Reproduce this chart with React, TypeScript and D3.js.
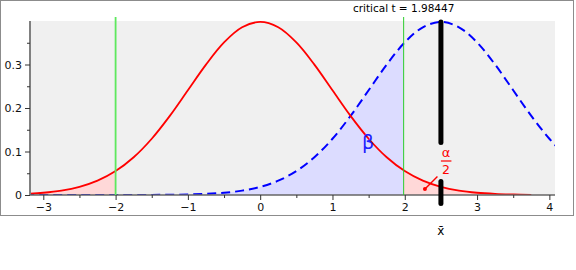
import { useRef, useEffect } from 'react';
import * as d3 from 'd3';

// offsets from the distribution centre and the t density (df = 98) read at them
const offsets = [
  -5.75, -5.5, -5.25, -5, -4.75, -4.5, -4.25, -4, -3.75, -3.5, -3.25, -3, -2.75, -2.5, -2.25, -2,
  -1.75, -1.5, -1.25, -1, -0.75, -0.5, -0.25, 0, 0.25, 0.5, 0.75, 1, 1.25, 1.5, 1.75, 2, 2.25,
  2.5, 2.75, 3, 3.25, 3.5, 3.75, 4, 4.25,
];
const tDensity = [
  0, 0, 0, 0.000003, 0.00001, 0.00003, 0.00008, 0.00021, 0.00051, 0.00115, 0.00249, 0.00513,
  0.01005, 0.01867, 0.03291, 0.05496, 0.08677, 0.12937, 0.18186, 0.24074, 0.29975, 0.35077,
  0.38556, 0.39792, 0.38556, 0.35077, 0.29975, 0.24074, 0.18186, 0.12937, 0.08677, 0.05496,
  0.03291, 0.01867, 0.01005, 0.00513, 0.00249, 0.00115, 0.00051, 0.00021, 0.00008,
];

const critT = 1.98447;
const lowerMark = -2;
const altMean = 2.5;
const redAtCrit = 0.0566; // null density at the critical value
const blueAtCrit = 0.348; // alternative density at the critical value
const redMaxX = 3.9;

const xTicks = [-3, -2, -1, 0, 1, 2, 3, 4];
const xMinorTicks = [-2.5, -1.5, -0.5, 0.5, 1.5, 2.5, 3.5];
const yTicks = [0, 0.1, 0.2, 0.3];
const yMinorTicks = [0.05, 0.15, 0.25, 0.35];

const W = 576;
const H = 270;
const plot = { left: 30, right: 555, top: 21, bottom: 195 };
const font = '"DejaVu Sans", Verdana, sans-serif';

type Pt = [number, number];

export default function App() {
  const svgRef = useRef<SVGSVGElement>(null);

  useEffect(() => {
    if (!svgRef.current) return;
    const svg = d3.select(svgRef.current);
    svg.selectAll('*').remove();

    const x = d3.scaleLinear().domain([-3.184, 4.078]).range([plot.left, plot.right]);
    const y = d3.scaleLinear().domain([0, 0.4]).range([plot.bottom, plot.top]);

    const nullPts: Pt[] = offsets.map((o, i) => [o, tDensity[i]]);
    const altPts: Pt[] = offsets.map((o, i) => [o + altMean, tDensity[i]]);

    svg
      .append('rect')
      .attr('x', 0.5)
      .attr('y', 0.5)
      .attr('width', 573)
      .attr('height', 215)
      .attr('fill', '#fff')
      .attr('stroke', '#8c8c8c');

    svg
      .append('rect')
      .attr('x', plot.left)
      .attr('y', plot.top)
      .attr('width', plot.right - plot.left)
      .attr('height', plot.bottom - plot.top)
      .attr('fill', '#f0f0f0');

    svg
      .append('defs')
      .append('clipPath')
      .attr('id', 'plotclip')
      .append('rect')
      .attr('x', plot.left)
      .attr('y', plot.top - 5)
      .attr('width', plot.right - plot.left)
      .attr('height', plot.bottom - plot.top + 5);

    const g = svg.append('g').attr('clip-path', 'url(#plotclip)');

    const area = d3
      .area<Pt>()
      .x((d) => x(d[0]))
      .y0(y(0))
      .y1((d) => y(d[1]))
      .curve(d3.curveCatmullRom);
    const line = d3
      .line<Pt>()
      .x((d) => x(d[0]))
      .y((d) => y(d[1]))
      .curve(d3.curveCatmullRom);

    // beta region under the alternative curve
    const betaPts: Pt[] = [...altPts.filter((d) => d[0] < critT), [critT, blueAtCrit]];
    g.append('path').datum(betaPts).attr('fill', '#dcdcff').attr('d', area);

    // rejection tails under the null curve
    const leftTail = nullPts.filter((d) => d[0] <= lowerMark);
    const rightTail: Pt[] = [[critT, redAtCrit], ...nullPts.filter((d) => d[0] > critT)];
    g.append('path').datum(leftTail).attr('fill', '#ffd8d8').attr('d', area);
    g.append('path').datum(rightTail).attr('fill', '#ffd8d8').attr('d', area);

    // axes
    svg
      .append('line')
      .attr('x1', plot.left)
      .attr('x2', plot.left)
      .attr('y1', plot.top)
      .attr('y2', plot.bottom)
      .attr('stroke', '#808080')
      .attr('stroke-width', 2);
    svg
      .append('line')
      .attr('x1', plot.left)
      .attr('x2', plot.right)
      .attr('y1', plot.bottom)
      .attr('y2', plot.bottom)
      .attr('stroke', '#666')
      .attr('stroke-width', 1.5);

    const styleAxis = (sel: d3.Selection<SVGGElement, unknown, null, undefined>) => {
      sel.select('.domain').remove();
      sel.selectAll('line').attr('stroke', '#333');
      sel.selectAll('text').attr('fill', '#111').attr('font-family', font).attr('font-size', 11);
    };

    svg
      .append('g')
      .attr('transform', `translate(0,${plot.bottom})`)
      .call(d3.axisBottom(x).tickValues(xTicks).tickSize(5).tickPadding(3).tickFormat(d3.format('d')))
      .call(styleAxis);
    svg
      .append('g')
      .attr('transform', `translate(0,${plot.bottom})`)
      .call(d3.axisBottom(x).tickValues(xMinorTicks).tickSize(3).tickFormat(() => ''))
      .call(styleAxis);
    svg
      .append('g')
      .attr('transform', `translate(${plot.left},0)`)
      .call(
        d3
          .axisLeft(y)
          .tickValues(yTicks)
          .tickSize(5)
          .tickPadding(3)
          .tickFormat((d) => (d === 0 ? '0' : d3.format('.1f')(d as number))),
      )
      .call(styleAxis);
    svg
      .append('g')
      .attr('transform', `translate(${plot.left},0)`)
      .call(d3.axisLeft(y).tickValues(yMinorTicks).tickSize(3).tickFormat(() => ''))
      .call(styleAxis);

    // marker lines
    svg
      .append('line')
      .attr('x1', x(lowerMark))
      .attr('x2', x(lowerMark))
      .attr('y1', 17)
      .attr('y2', plot.bottom)
      .attr('stroke', '#5ee85e')
      .attr('stroke-width', 1.8);
    svg
      .append('line')
      .attr('x1', x(critT))
      .attr('x2', x(critT))
      .attr('y1', 17)
      .attr('y2', plot.bottom)
      .attr('stroke', '#2ccc2c')
      .attr('stroke-width', 1);

    // curves
    g.append('path')
      .datum(altPts)
      .attr('fill', 'none')
      .attr('stroke', '#0000ff')
      .attr('stroke-width', 2)
      .attr('stroke-dasharray', '9,5')
      .attr('d', line);
    g.append('path')
      .datum(nullPts.filter((d) => d[0] <= redMaxX))
      .attr('fill', 'none')
      .attr('stroke', '#ff0000')
      .attr('stroke-width', 1.8)
      .attr('d', line);

    // sample mean bar
    const bx = x(altMean);
    [
      [22, 142.5],
      [181.5, 203.5],
    ].forEach(([a, b]) => {
      svg
        .append('line')
        .attr('x1', bx)
        .attr('x2', bx)
        .attr('y1', a)
        .attr('y2', b)
        .attr('stroke', '#000')
        .attr('stroke-width', 5)
        .attr('stroke-linecap', 'round');
    });

    // labels
    svg
      .append('text')
      .attr('x', x(critT))
      .attr('y', 12)
      .attr('text-anchor', 'middle')
      .attr('font-family', font)
      .attr('font-size', 10.5)
      .attr('fill', '#000')
      .text('critical t = 1.98447');

    svg
      .append('text')
      .attr('x', 368)
      .attr('y', 149)
      .attr('text-anchor', 'middle')
      .attr('font-family', font)
      .attr('font-size', 19)
      .attr('fill', '#2020ff')
      .text('β');

    const ax = bx + 5;
    svg
      .append('text')
      .attr('x', ax)
      .attr('y', 157)
      .attr('text-anchor', 'middle')
      .attr('font-family', font)
      .attr('font-size', 13)
      .attr('fill', '#ff0000')
      .text('α');
    svg
      .append('line')
      .attr('x1', ax - 5)
      .attr('x2', ax + 5.5)
      .attr('y1', 161)
      .attr('y2', 161)
      .attr('stroke', '#ff0000')
      .attr('stroke-width', 1.2);
    svg
      .append('text')
      .attr('x', ax)
      .attr('y', 173.5)
      .attr('text-anchor', 'middle')
      .attr('font-family', font)
      .attr('font-size', 12.5)
      .attr('fill', '#ff0000')
      .text('2');
    svg
      .append('line')
      .attr('x1', bx - 16)
      .attr('y1', 189)
      .attr('x2', bx - 3.5)
      .attr('y2', 176.5)
      .attr('stroke', '#ff0000')
      .attr('stroke-width', 1.4);
    svg
      .append('circle')
      .attr('cx', bx - 16)
      .attr('cy', 189)
      .attr('r', 2)
      .attr('fill', '#ff0000');

    svg
      .append('text')
      .attr('x', bx)
      .attr('y', 235)
      .attr('text-anchor', 'middle')
      .attr('font-family', font)
      .attr('font-size', 12)
      .attr('fill', '#000')
      .text('x\u0304');
  }, []);

  return (
    <svg
      ref={svgRef}
      width={W}
      height={H}
      viewBox={`0 0 ${W} ${H}`}
      style={{ position: 'absolute', left: 0, top: 0, background: '#fff' }}
    />
  );
}
